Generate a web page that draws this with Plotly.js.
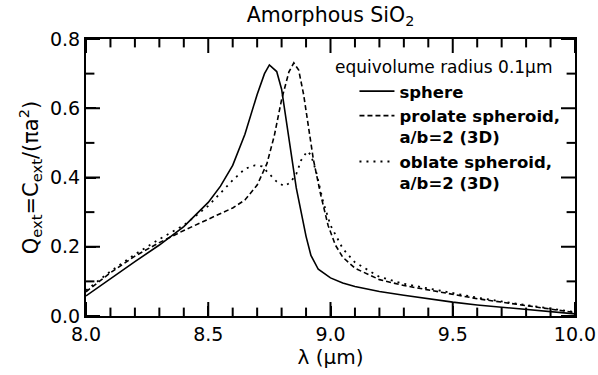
<!DOCTYPE html>
<html>
<head>
<meta charset="utf-8">
<script src="https://cdn.plot.ly/plotly-3.0.1.min.js"></script>
<style>html,body{margin:0;padding:0;background:#fff;}#chart{width:598px;height:375px;}</style>
</head>
<body>
<div id="chart"></div>
<script>
// Wavelength (μm) and Q_ext values
var lamSphere = [8.00,8.10,8.20,8.30,8.40,8.50,8.55,8.60,8.65,8.70,8.73,8.75,8.78,8.80,8.82,8.84,8.86,8.88,8.90,8.92,8.95,9.00,9.05,9.10,9.20,9.30,9.40,9.50,9.60,9.70,9.80,9.90,10.00];
var qSphere   = [0.058,0.108,0.157,0.205,0.258,0.328,0.375,0.435,0.525,0.640,0.700,0.725,0.706,0.655,0.560,0.460,0.370,0.300,0.230,0.175,0.135,0.110,0.095,0.085,0.071,0.060,0.049,0.040,0.032,0.025,0.018,0.012,0.006];

var lamProlate = [8.00,8.10,8.20,8.30,8.40,8.50,8.60,8.65,8.70,8.74,8.77,8.80,8.83,8.85,8.87,8.89,8.91,8.93,8.96,8.99,9.02,9.05,9.10,9.20,9.30,9.40,9.50,9.60,9.70,9.80,9.90,10.00];
var qProlate   = [0.070,0.125,0.173,0.212,0.247,0.279,0.312,0.335,0.378,0.440,0.520,0.625,0.705,0.731,0.710,0.640,0.545,0.452,0.350,0.262,0.205,0.170,0.138,0.105,0.088,0.075,0.062,0.050,0.040,0.030,0.020,0.010];

var lamOblate = [8.00,8.10,8.20,8.30,8.40,8.50,8.55,8.60,8.65,8.69,8.72,8.75,8.78,8.81,8.835,8.86,8.88,8.905,8.92,8.94,8.97,9.00,9.05,9.10,9.20,9.30,9.40,9.50,9.60,9.70,9.80,9.90,10.00];
var qOblate   = [0.074,0.129,0.178,0.222,0.262,0.318,0.355,0.392,0.425,0.435,0.432,0.410,0.388,0.375,0.385,0.410,0.450,0.476,0.465,0.420,0.330,0.262,0.195,0.155,0.113,0.093,0.079,0.066,0.053,0.042,0.031,0.021,0.011];

var seriesNames = ["<b>sphere</b>", "<b>prolate spheroid,</b><br><b>a/b=2 (3D)</b>", "<b>oblate spheroid,</b><br><b>a/b=2 (3D)</b>"];
var legendTitle = "equivolume radius 0.1μm";
var chartTitle = "Amorphous SiO<sub>2</sub>";
var xTitle = "λ (μm)";
var yTitle = "Q<sub>ext</sub>=C<sub>ext</sub>/(πa<sup>2</sup>)";

// axis ranges and tick values
var xRange = [8, 10], yRange = [0, 0.8];
var xMajorTicks = [8.0, 8.5, 9.0, 9.5, 10.0];
var xMinorTicks = [8.1, 8.2, 8.3, 8.4, 8.6, 8.7, 8.8, 8.9, 9.1, 9.2, 9.3, 9.4, 9.6, 9.7, 9.8, 9.9];
var yMajorTicks = [0.0, 0.2, 0.4, 0.6, 0.8];
var yMinorTicks = [0.1, 0.3, 0.5, 0.7];

var FONT = "DejaVu Sans, Liberation Sans, sans-serif";
var W = 598, H = 375, M = {l: 86, r: 23, t: 39, b: 59};

// inside tick marks: line-shaped markers centred on the frame, clipped to the plot area
function tickTrace(xs, ys, symbol, len) {
  return {x: xs, y: ys, mode: "markers", cliponaxis: true, showlegend: false, hoverinfo: "skip",
    marker: {symbol: symbol, size: 2 * len, color: "black", line: {color: "black", width: 2}}};
}
function onEdges(vals, edges, isX) {
  var xs = [], ys = [];
  edges.forEach(function (e) {
    vals.forEach(function (v) {
      if (isX) { xs.push(v); ys.push(e); } else { xs.push(e); ys.push(v); }
    });
  });
  return [xs, ys];
}
var xMaj = onEdges(xMajorTicks, yRange, true), xMin = onEdges(xMinorTicks, yRange, true);
var yMaj = onEdges(yMajorTicks, xRange, false), yMin = onEdges(yMinorTicks, xRange, false);

var traces = [
  {x: lamSphere, y: qSphere, name: seriesNames[0], mode: "lines", line: {color: "black", width: 1.6, dash: "solid"}},
  {x: lamProlate, y: qProlate, name: seriesNames[1], mode: "lines", line: {color: "black", width: 1.6, dash: "5px,3px"}},
  {x: lamOblate, y: qOblate, name: seriesNames[2], mode: "lines", line: {color: "black", width: 1.8, dash: "2px,5px"}},
  tickTrace(xMaj[0], xMaj[1], "line-ns", 10),
  tickTrace(xMin[0], xMin[1], "line-ns", 6),
  tickTrace(yMaj[0], yMaj[1], "line-ew", 10),
  tickTrace(yMin[0], yMin[1], "line-ew", 6)
];

var xa = {
  range: xRange, tickmode: "array", tickvals: xMajorTicks, tickformat: ".1f",
  showgrid: false, zeroline: false, showline: true, linecolor: "black", linewidth: 2, mirror: true,
  ticks: "inside", ticklen: 10, tickwidth: 1.5, tickcolor: "black",
  tickfont: {family: FONT, size: 19, color: "black"},
  title: {text: xTitle, font: {family: FONT, size: 20, color: "black"}, standoff: 4}
};
var ya = {
  range: yRange, tickmode: "array", tickvals: yMajorTicks, tickformat: ".1f",
  showgrid: false, zeroline: false, showline: true, linecolor: "black", linewidth: 2, mirror: true,
  ticks: "inside", ticklen: 10, tickwidth: 1.5, tickcolor: "black",
  tickfont: {family: FONT, size: 19, color: "black"},
  title: {text: yTitle, font: {family: FONT, size: 21, color: "black"}, standoff: 6}
};

var layout = {
  width: W, height: H,
  margin: M,
  paper_bgcolor: "white", plot_bgcolor: "white",
  font: {family: FONT, color: "black"},
  title: {text: chartTitle, font: {family: FONT, size: 20.5, color: "black"}, x: 0.5, xref: "paper", xanchor: "center", y: 0.96, yref: "container", yanchor: "middle"},
  xaxis: xa, yaxis: ya,
  showlegend: true,
  legend: {
    x: 0.549, xanchor: "left", y: 0.874, yanchor: "top",
    bgcolor: "rgba(0,0,0,0)", borderwidth: 0,
    font: {family: FONT, size: 16.5, color: "black"},
    itemwidth: 35, valign: "top", tracegroupgap: 0
  },
  annotations: [{
    text: legendTitle, xref: "paper", yref: "paper", x: 0.505, y: 0.90,
    xanchor: "left", yanchor: "middle", showarrow: false,
    font: {family: FONT, size: 17, color: "black"}
  }]
};

Plotly.newPlot("chart", traces, layout, {displayModeBar: false});
</script>
</body>
</html>
